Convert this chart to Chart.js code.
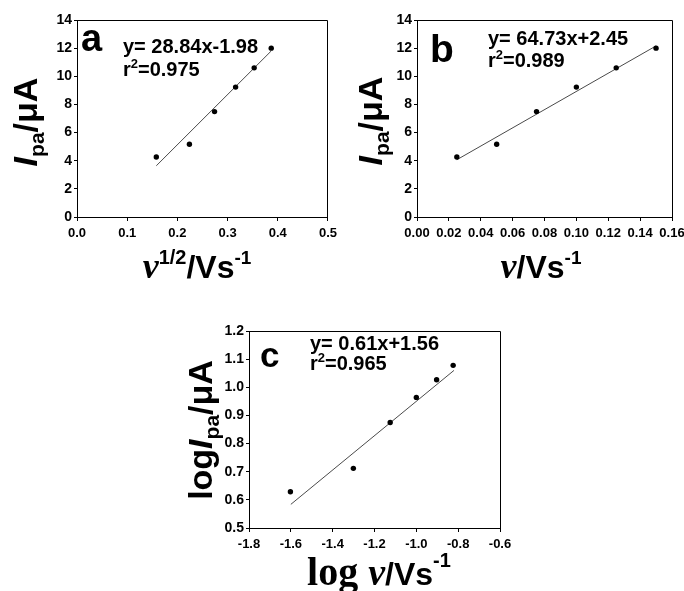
<!DOCTYPE html>
<html lang="en">
<head>
    <meta charset="UTF-8">
    <title>Peak current vs scan rate</title>
    <script src="https://cdn.jsdelivr.net/npm/chart.js"></script>
    <style>
        body { margin: 0; background: #fff; }
        /* three panels sit on one fixed-size sheet */
        .sheet { position: relative; width: 684px; height: 591px; overflow: hidden; background: #fff; }
        canvas { position: absolute; }
        #panelA { left: 0; top: 0; }
        #panelB { left: 342px; top: 0; }
        #panelC { left: 170px; top: 300px; }
    </style>
</head>
<body>
    <div class="sheet">
        <canvas id="panelA" width="342" height="300"></canvas>
        <canvas id="panelB" width="360" height="300"></canvas>
        <canvas id="panelC" width="350" height="291"></canvas>
    </div>

    <script>
        // scan rates and measured anodic peak currents
        const scanRate = [0.025, 0.05, 0.075, 0.1, 0.125, 0.15];        // V/s
        const sqrtRate = [0.158, 0.224, 0.274, 0.316, 0.353, 0.387];     // (V/s)^1/2
        const logRate = [-1.602, -1.301, -1.125, -1.0, -0.903, -0.824];
        const peakCurrent = [4.26, 5.17, 7.49, 9.23, 10.6, 12.0];       // µA
        const logCurrent = [0.629, 0.712, 0.875, 0.964, 1.027, 1.078];

        // linear fit lines (end points)
        const fitA = { x: [0.158, 0.387], y: [3.64, 11.8] };
        const fitB = { x: [0.025, 0.15], y: [4.07, 12.16] };
        const fitC = { x: [-1.6, -0.82], y: [0.584, 1.06] };

        const equations = ['y= 28.84x-1.98', 'y= 64.73x+2.45', 'y= 0.61x+1.56'];
        const rSquared = ['0.975', '0.989', '0.965'];

        // tick labels
        const ticksAx = ['0.0', '0.1', '0.2', '0.3', '0.4', '0.5'];
        const ticksBx = ['0.00', '0.02', '0.04', '0.06', '0.08', '0.10', '0.12', '0.14', '0.16'];
        const ticksCx = ['-1.8', '-1.6', '-1.4', '-1.2', '-1.0', '-0.8', '-0.6'];
        const ticksIy = ['0', '2', '4', '6', '8', '10', '12', '14'];
        const ticksCy = ['0.5', '0.6', '0.7', '0.8', '0.9', '1.0', '1.1', '1.2'];

        const SANS = 'Arial, "Liberation Sans", sans-serif';
        const SERIF = '"Times New Roman", "Liberation Serif", serif';

        // draw a row of text pieces with different fonts / baseline shifts
        function drawRuns(ctx, runs, x, y, align, rot) {
            let total = 0;
            runs.forEach(r => { ctx.font = r.font; r.w = ctx.measureText(r.text).width; total += r.w; });
            ctx.save();
            ctx.translate(x, y);
            if (rot) ctx.rotate(rot);
            ctx.fillStyle = '#000';
            ctx.textAlign = 'left';
            ctx.textBaseline = 'alphabetic';
            let cx = align === 'center' ? -total / 2 : 0;
            runs.forEach(r => {
                ctx.font = r.font;
                ctx.fillText(r.text, cx, r.dy || 0);
                cx += r.w;
            });
            ctx.restore();
        }

        function alignPx(p) {
            return Math.round(p - 0.5) + 0.5;
        }

        function makeAxis(labels, size, fit, tickLen, pad) {
            return {
                type: 'linear',
                min: parseFloat(labels[0]),
                max: parseFloat(labels[labels.length - 1]),
                afterBuildTicks: s => { s.ticks = labels.map(t => ({ value: parseFloat(t) })); },
                afterFit: fit,
                ticks: {
                    callback: (v, i) => labels[i],
                    autoSkip: false,
                    maxRotation: 0,
                    minRotation: 0,
                    padding: pad,
                    color: '#000',
                    font: { family: SANS, size: size, weight: 'bold' }
                },
                grid: { drawOnChartArea: false, tickLength: tickLen, color: '#000', tickWidth: 1 },
                border: { color: '#000', width: 1 }
            };
        }

        function panel(id, p) {
            const labelPlugin = {
                id: 'labels_' + id,
                afterDraw(chart) {
                    const ctx = chart.ctx;
                    const a = chart.chartArea;
                    // box frame (top and right edges)
                    ctx.save();
                    ctx.strokeStyle = '#000';
                    ctx.lineWidth = 1;
                    ctx.beginPath();
                    ctx.moveTo(alignPx(a.left), alignPx(a.top));
                    ctx.lineTo(alignPx(a.right), alignPx(a.top));
                    ctx.lineTo(alignPx(a.right), alignPx(a.bottom));
                    ctx.stroke();
                    ctx.restore();

                    // panel letter
                    drawRuns(ctx, [{ text: p.letter, font: `bold ${p.letterSize}px ${SANS}` }],
                        p.letterPos[0], p.letterPos[1], 'left');
                    // fit equation and r²
                    drawRuns(ctx, [{ text: p.eq, font: `bold 20px ${SANS}` }],
                        p.eqPos[0], p.eqPos[1], 'left');
                    drawRuns(ctx, [
                        { text: 'r', font: `bold 20px ${SANS}` },
                        { text: '2', font: `bold 13px ${SANS}`, dy: -8 },
                        { text: '=' + p.r2, font: `bold 20px ${SANS}` }
                    ], p.eqPos[0], p.eqPos[1] + p.eqGap, 'left');

                    // axis titles
                    drawRuns(ctx, p.xTitle, p.xTitlePos[0], p.xTitlePos[1], 'center');
                    drawRuns(ctx, p.yTitle, p.yTitlePos[0], p.yTitlePos[1], 'center', -Math.PI / 2);
                }
            };

            return new Chart(document.getElementById(id), {
                type: 'scatter',
                data: {
                    datasets: [{
                        data: p.xs.map((x, i) => ({ x: x, y: p.ys[i] })),
                        backgroundColor: '#000',
                        borderWidth: 0,
                        pointRadius: 2.7
                    }, {
                        data: p.fit.x.map((x, i) => ({ x: x, y: p.fit.y[i] })),
                        showLine: true,
                        borderColor: '#4a4a4a',
                        borderWidth: 1,
                        pointRadius: 0
                    }]
                },
                options: {
                    responsive: false,
                    animation: false,
                    events: [],
                    layout: { padding: { left: 0, top: p.box.top, right: p.box.right, bottom: 0 } },
                    plugins: { legend: { display: false }, tooltip: { enabled: false } },
                    scales: {
                        x: makeAxis(p.xTicks, 13, s => { s.height = p.box.bottom; }, 4, 5),
                        y: makeAxis(p.yTicks, 14, s => { s.width = p.box.left; }, 3, 2)
                    }
                },
                plugins: [labelPlugin]
            });
        }

        const currentTitle = [
            { text: 'I', font: `italic bold 34px ${SANS}` },
            { text: 'pa', font: `bold 21px ${SANS}`, dy: 7 },
            { text: '/μA', font: `bold 34px ${SANS}` }
        ];

        panel('panelA', {
            xs: sqrtRate, ys: peakCurrent, fit: fitA,
            xTicks: ticksAx, yTicks: ticksIy,
            box: { left: 77, right: 11, top: 20, bottom: 83 },
            letter: 'a', letterSize: 38, letterPos: [81, 51],
            eq: equations[0], r2: rSquared[0], eqPos: [123, 53], eqGap: 23,
            xTitle: [
                { text: 'ν', font: `italic bold 36px ${SERIF}` },
                { text: '1/2', font: `bold 20px ${SANS}`, dy: -14 },
                { text: '/Vs', font: `bold 32px ${SANS}` },
                { text: '-1', font: `bold 19px ${SANS}`, dy: -14 }
            ],
            xTitlePos: [197, 278],
            yTitle: currentTitle, yTitlePos: [37, 122]
        });

        panel('panelB', {
            xs: scanRate, ys: peakCurrent, fit: fitB,
            xTicks: ticksBx, yTicks: ticksIy,
            box: { left: 75, right: 30, top: 20, bottom: 83 },
            letter: 'b', letterSize: 39, letterPos: [88, 62],
            eq: equations[1], r2: rSquared[1], eqPos: [146, 45], eqGap: 22,
            xTitle: [
                { text: 'ν', font: `italic bold 36px ${SERIF}` },
                { text: '/Vs', font: `bold 32px ${SANS}` },
                { text: '-1', font: `bold 19px ${SANS}`, dy: -14 }
            ],
            xTitlePos: [199, 278],
            yTitle: currentTitle, yTitlePos: [40, 121]
        });

        panel('panelC', {
            xs: logRate, ys: logCurrent, fit: fitC,
            xTicks: ticksCx, yTicks: ticksCy,
            box: { left: 79, right: 20, top: 31, bottom: 63 },
            letter: 'c', letterSize: 35, letterPos: [90, 67],
            eq: equations[2], r2: rSquared[2], eqPos: [140, 50], eqGap: 20,
            xTitle: [
                { text: 'log ', font: `bold 40px ${SERIF}` },
                { text: 'ν', font: `italic bold 38px ${SERIF}` },
                { text: '/Vs', font: `bold 32px ${SANS}` },
                { text: '-1', font: `bold 20px ${SANS}`, dy: -18 }
            ],
            xTitlePos: [209, 285],
            yTitle: [{ text: 'log', font: `bold 34px ${SANS}` }].concat(currentTitle),
            yTitlePos: [42, 130]
        });
    </script>
</body>
</html>
